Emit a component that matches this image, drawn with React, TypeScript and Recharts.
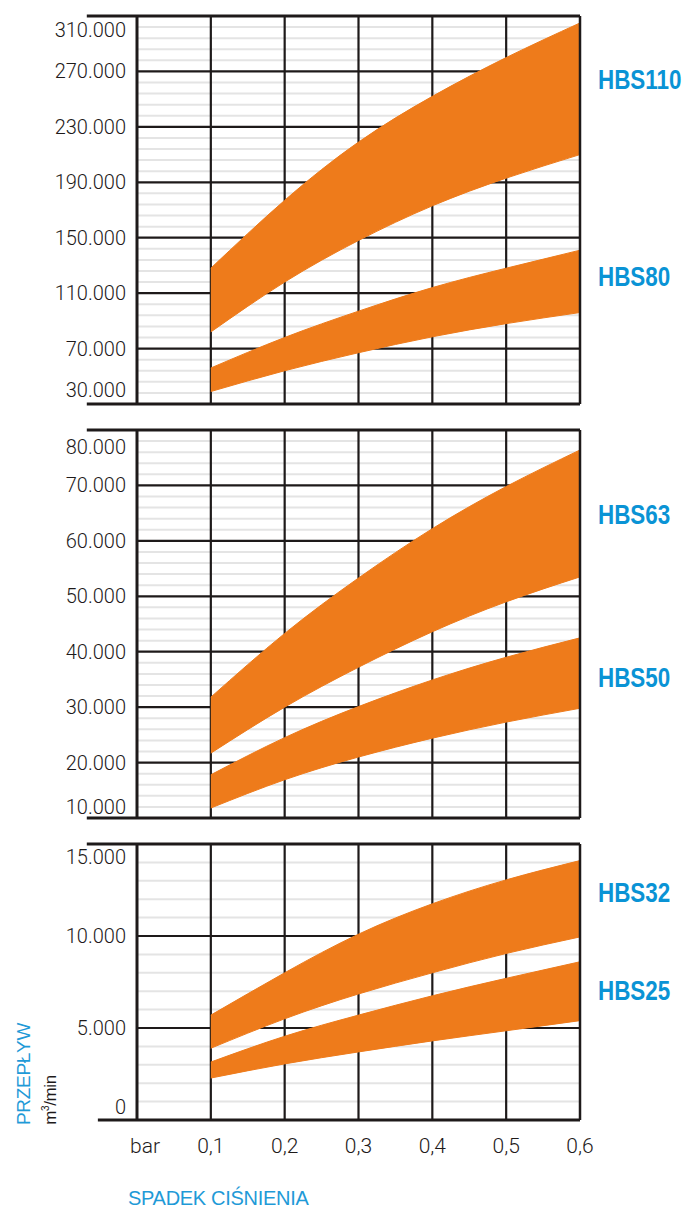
import React from 'react';
import { ComposedChart, Area, XAxis, YAxis, CartesianGrid, ReferenceLine } from 'recharts';

// pressure drop (bar) at which the bands are read
const pressure = [0.1, 0.2, 0.3, 0.4, 0.5, 0.6];
const xTicks = [0, 0.1, 0.2, 0.3, 0.4, 0.5, 0.6];
const xTickLabels = ['bar', '0,1', '0,2', '0,3', '0,4', '0,5', '0,6'];
const xGrid = [0.1, 0.2, 0.3, 0.4, 0.5];

// flow (m3/min), lower and upper edge of every band
const hbs110Low = [82000, 118000, 148000, 173000, 193000, 210000];
const hbs110High = [128000, 177000, 219000, 252000, 280000, 305000];
const hbs80Low = [39000, 54000, 67000, 78500, 88000, 96000];
const hbs80High = [56000, 78000, 97000, 114000, 128000, 141000];

const hbs63Low = [21700, 30000, 37200, 43600, 49000, 53500];
const hbs63High = [31800, 43300, 53300, 62200, 69800, 76400];
const hbs50Low = [11800, 16900, 21000, 24400, 27300, 29800];
const hbs50High = [17800, 24500, 30100, 34900, 39000, 42500];

const hbs32Low = [3900, 5500, 6850, 8000, 9050, 9950];
const hbs32High = [5700, 8000, 10100, 11750, 13050, 14100];
const hbs25Low = [2280, 3050, 3700, 4300, 4850, 5400];
const hbs25High = [3150, 4550, 5700, 6750, 7700, 8600];

// y ticks of the three panels
const topTicks = [30000, 70000, 110000, 150000, 190000, 230000, 270000, 310000];
const midTicks = [10000, 20000, 30000, 40000, 50000, 60000, 70000, 80000];
const lowTicks = [0, 5000, 10000, 15000];

const ORANGE = '#ee7b1b';
const BLUE = '#0a93d5';
const LIGHTBLUE = '#1f9ad7';
const INK = '#1e1a1a';
const SANS = "'Liberation Sans', Arial, sans-serif";
const TICKFONT = "Roboto, 'Liberation Sans', sans-serif";

const fmt = (v: number) => {
  if (v < 1000) return String(v);
  const k = Math.floor(v / 1000);
  return `${k}.${String(v % 1000).padStart(3, '0')}`;
};

const buildRows = (lows: number[][], highs: number[][]) =>
  pressure.map((p, i) => {
    const row: any = { p };
    lows.forEach((l, s) => {
      row['s' + s] = [l[i], highs[s][i]];
    });
    return row;
  });

const minorValues = (min: number, max: number, step: number, majors: number[]) => {
  const out: number[] = [];
  for (let v = min + step; v < max; v += step) {
    if (!majors.includes(v)) out.push(v);
  }
  return out;
};

interface PanelProps {
  top: number;
  height: number;
  marginTop: number;
  bottomSpace: number;
  rows: any[];
  count: number;
  ticks: number[];
  minorStep: number;
  showX?: boolean;
  leftExtTop: number;
  leftExtBottom: number;
  edgeNudge: [number, number];
}

const Panel: React.FC<PanelProps> = ({
  top, height, marginTop, bottomSpace, rows, count, ticks, minorStep, showX,
  leftExtTop, leftExtBottom, edgeNudge,
}) => {
  const min = ticks[0];
  const max = ticks[ticks.length - 1];
  const majors = ticks.slice(1, -1);
  const minors = minorValues(min, max, minorStep, ticks);

  const yTick = (props: any) => {
    const { x, y, payload } = props;
    let dy = 0;
    if (payload.value === max) dy = edgeNudge[0];
    if (payload.value === min) dy = edgeNudge[1];
    return (
      <text x={x} y={y + dy} textAnchor="end" dominantBaseline="central"
        fontFamily={TICKFONT} fontWeight={300} fontSize={20} fill={INK}>
        {fmt(payload.value)}
      </text>
    );
  };

  const xTick = (props: any) => {
    const { x, y, payload } = props;
    const i = xTicks.indexOf(payload.value);
    return (
      <text x={x + (i === 0 ? 8 : 0)} y={y + 26} textAnchor="middle" dominantBaseline="central"
        fontFamily={TICKFONT} fontWeight={300} fontSize={21} fill={INK}>
        {xTickLabels[i]}
      </text>
    );
  };

  return (
    <div style={{ position: 'absolute', left: 0, top, width: 698, height }}>
      <ComposedChart width={698} height={height} data={rows}
        margin={{ top: marginTop, right: 118, bottom: showX ? 0 : bottomSpace, left: 0 }}>
        <CartesianGrid horizontalValues={minors} vertical={false} stroke="#e4e4e4" strokeWidth={2} />
        <CartesianGrid horizontalValues={majors} verticalValues={xGrid} stroke={INK} strokeWidth={2.2} />
        <XAxis dataKey="p" type="number" domain={[0, 0.6]} ticks={xTicks} hide={!showX}
          height={showX ? bottomSpace : 0} axisLine={false} tickLine={false} tickSize={0}
          tickMargin={0} tick={xTick} interval={0} />
        <YAxis type="number" domain={[min, max]} ticks={ticks} width={137} interval={0}
          axisLine={{ stroke: INK, strokeWidth: 3 }} tickLine={false} tickSize={0} tickMargin={11}
          tick={yTick} />
        {Array.from({ length: count }).map((_, s) => (
          <Area key={s} type="natural" dataKey={'s' + s} fill={ORANGE} fillOpacity={1}
            stroke={ORANGE} strokeWidth={1} isAnimationActive={false} dot={false} activeDot={false} />
        ))}
        <ReferenceLine segment={[{ x: leftExtTop, y: max }, { x: 0.6, y: max }]}
          stroke={INK} strokeWidth={3} ifOverflow="visible" />
        <ReferenceLine segment={[{ x: leftExtBottom, y: min }, { x: 0.6, y: min }]}
          stroke={INK} strokeWidth={3} ifOverflow="visible" />
        <ReferenceLine segment={[{ x: 0.6, y: min }, { x: 0.6, y: max }]}
          stroke={INK} strokeWidth={2.5} ifOverflow="visible" />
      </ComposedChart>
    </div>
  );
};

const seriesLabel = (text: string, centerY: number) => (
  <div key={text} style={{
    position: 'absolute', left: 598, top: centerY - 15, height: 30, lineHeight: '30px',
    fontFamily: SANS, fontWeight: 700, fontSize: 27, color: BLUE, whiteSpace: 'nowrap',
    transform: 'scaleX(0.83)', transformOrigin: 'left center',
  }}>{text}</div>
);

export default function App() {
  const topRows = buildRows([hbs110Low, hbs80Low], [hbs110High, hbs80High]);
  const midRows = buildRows([hbs63Low, hbs50Low], [hbs63High, hbs50High]);
  const lowRows = buildRows([hbs32Low, hbs25Low], [hbs32High, hbs25High]);

  return (
    <div style={{ position: 'absolute', left: 0, top: 0, width: 698, height: 1208, background: '#fff', overflow: 'hidden' }}>
      <Panel top={0} height={420} marginTop={16} bottomSpace={16} rows={topRows} count={2}
        ticks={topTicks} minorStep={8000} leftExtTop={-0.068} leftExtBottom={-0.068} edgeNudge={[14, -14]} />
      <Panel top={420} height={410} marginTop={10} bottomSpace={12} rows={midRows} count={2}
        ticks={midTicks} minorStep={2000} leftExtTop={-0.068} leftExtBottom={-0.068} edgeNudge={[17, -11]} />
      <Panel top={830} height={378} marginTop={14} bottomSpace={88} rows={lowRows} count={2}
        ticks={lowTicks} minorStep={1000} showX leftExtTop={-0.068} leftExtBottom={-0.053} edgeNudge={[13, -13]} />

      {seriesLabel('HBS110', 80)}
      {seriesLabel('HBS80', 277)}
      {seriesLabel('HBS63', 515)}
      {seriesLabel('HBS50', 678)}
      {seriesLabel('HBS32', 893)}
      {seriesLabel('HBS25', 991)}

      <div style={{
        position: 'absolute', left: 24 - 60, top: 1074 - 14, width: 120, height: 28, lineHeight: '28px',
        textAlign: 'center', transform: 'rotate(-90deg)', fontFamily: SANS, fontSize: 19,
        letterSpacing: -0.3, color: LIGHTBLUE, whiteSpace: 'nowrap',
      }}>PRZEPŁYW</div>
      <div style={{
        position: 'absolute', left: 51 - 40, top: 1100 - 11, width: 80, height: 22, lineHeight: '22px',
        textAlign: 'center', transform: 'rotate(-90deg)', fontFamily: SANS, fontSize: 17,
        letterSpacing: -0.4, color: INK, whiteSpace: 'nowrap',
      }}>m<sup style={{ fontSize: 10, lineHeight: 0 }}>3</sup>/min</div>
      <div style={{
        position: 'absolute', left: 128, top: 1198 - 16, width: 220, height: 32, lineHeight: '32px',
        fontFamily: SANS, fontSize: 20, letterSpacing: -0.3, color: LIGHTBLUE, whiteSpace: 'nowrap',
      }}>SPADEK CIŚNIENIA</div>
    </div>
  );
}
